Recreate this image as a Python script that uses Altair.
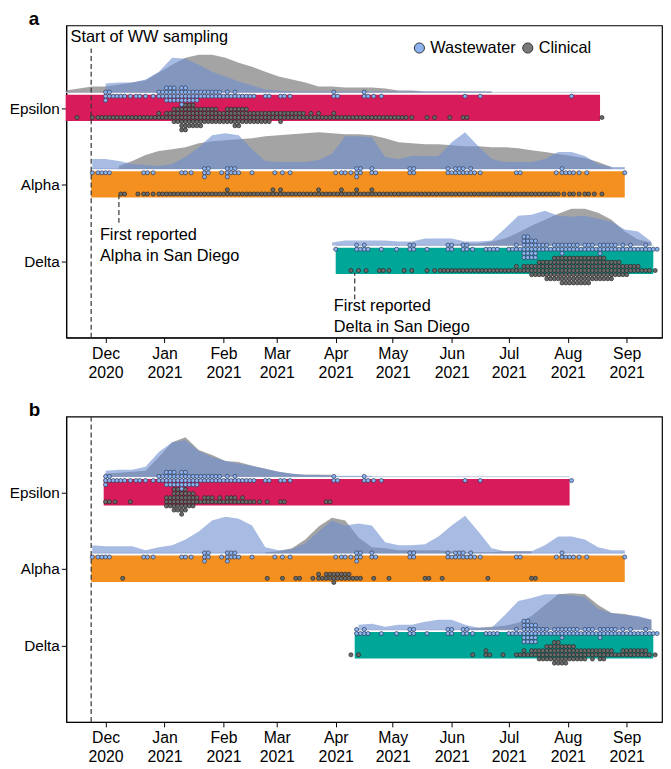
import altair as alt
import pandas as pd

FONT = "Liberation Sans"

# ---------------- values ----------------
VARIANTS = ["Epsilon", "Alpha", "Delta"]
ROW = {"Epsilon": 3, "Alpha": 2, "Delta": 1}
BAR_COLORS = ["#d81b5b", "#f39020", "#00a698"]

MONTH_TICKS = ["2020-12-01", "2021-01-01", "2021-02-01", "2021-03-01", "2021-04-01",
               "2021-05-01", "2021-06-01", "2021-07-01", "2021-08-01", "2021-09-01"]

# detection periods (bars)
BARS_A_START = ["2020-11-10", "2020-11-23T10:00", "2021-04-01"]
BARS_A_END = ["2021-08-18", "2021-08-31", "2021-09-15"]
BARS_B_START = ["2020-11-30", "2020-11-23T10:00", "2021-04-11"]
BARS_B_END = ["2021-08-02", "2021-08-31", "2021-09-15"]

# sample counts in 4-day bins counted from 2020-11-10 (first bin index, counts)
EPS_WW_START = 5
EPS_WW = [5, 2, 2, 1, 2, 1, 1, 4, 8, 7, 9, 6, 5, 4, 4, 3, 3, 3, 2, 2,
          0, 2, 0, 2, 1, 0, 0, 0, 0, 0, 3, 0, 0, 0, 3, 1, 1, 0, 0, 0,
          0, 0, 0, 0, 0, 0, 0, 1, 0, 1, 0, 0, 0, 0, 0, 0, 0, 0, 0, 0, 0, 1]
ALP_WW_START = 3
ALP_WW = [1, 2, 2, 0, 0, 0, 0, 2, 1, 0, 0, 0, 2, 1, 0, 5, 0, 1, 5, 3,
          0, 1, 0, 0, 1, 1, 1, 0, 0, 0, 0, 0, 1, 2, 1, 5, 0, 3, 0, 0,
          0, 0, 4, 0, 0, 0, 0, 3, 4, 3, 3, 1, 0, 0, 0, 0, 2, 0, 0, 0,
          0, 1, 3, 2, 1, 1, 0, 0, 0, 0, 1]
DEL_WW_START = 35
DEL_WW = [1, 0, 0, 3, 3, 0, 1, 0, 1, 0, 4, 0, 1, 0, 0, 4, 0, 4, 1, 0,
          2, 2, 0, 2, 3, 12, 10, 4, 3, 4, 5, 4, 3, 4, 3, 5, 4, 3, 3, 3, 2, 3, 2]

EPS_CLIN_A_START = 1
EPS_CLIN_A = [1, 0, 1, 2, 2, 2, 2, 2, 2, 2, 2, 3, 4, 8, 14, 12, 10, 8, 8, 6,
              8, 10, 8, 6, 6, 6, 4, 5, 4, 4, 3, 3, 3, 2, 3, 2, 2, 2, 2, 2,
              2, 2, 2, 2, 1, 0, 1, 1, 0, 1, 0, 2, 0, 0, 0, 0, 0, 0, 0, 0,
              0, 0, 0, 0, 0, 0, 0, 0, 0, 1]
ALP_CLIN_A_START = 7
ALP_CLIN_A = [2, 0, 1, 2, 1, 2, 2, 2, 2, 2, 2, 2, 2, 2, 3, 2, 2, 2, 2, 2,
              3, 3, 2, 2, 2, 2, 3, 2, 2, 3, 2, 3, 2, 3, 2, 2, 2, 2, 2, 2,
              2, 2, 2, 2, 2, 2, 2, 2, 2, 2, 2, 2, 2, 2, 2, 2, 2, 2, 1, 2, 1, 2, 1, 1]
DEL_CLIN_A_START = 37
DEL_CLIN_A = [1, 1, 1, 0, 2, 1, 0, 1, 1, 0, 1, 1, 2, 2, 2, 2, 2, 2, 2, 2,
              2, 2, 3, 4, 6, 8, 10, 12, 14, 14, 14, 14, 12, 12, 10, 8, 6, 4, 3, 2, 1]

EPS_CLIN_B_START = 5
EPS_CLIN_B = [2, 1, 0, 1, 0, 0, 0, 0, 6, 12, 13, 8, 3, 4, 3, 3, 4, 3, 3, 2,
              1, 1, 0, 2, 0, 0, 0, 0, 0, 2]
ALP_CLIN_B_START = 7
ALP_CLIN_B = [1, 0, 0, 0, 0, 0, 0, 0, 0, 0, 0, 0, 0, 0, 0, 0, 0, 0, 0, 1,
              0, 1, 0, 2, 0, 1, 3, 4, 5, 4, 3, 2, 0, 1, 0, 1, 0, 0, 0, 0,
              2, 0, 1, 0, 0, 0, 0, 0, 1, 0, 0, 0, 0, 0, 2]
DEL_CLIN_B_START = 37
DEL_CLIN_B = [1, 1, 0, 0, 0, 0, 0, 0, 0, 0, 0, 0, 0, 0, 0, 0, 1, 0, 3, 0,
              1, 0, 2, 3, 4, 6, 8, 12, 10, 8, 6, 5, 5, 6, 4, 2, 4, 4, 4, 3, 1]

# relative abundance curves, weekly from 2020-11-10 (first week index, values)
EPS_CLIN_AREA_A_START = 0
EPS_CLIN_AREA_A = [2, 4, 6, 6, 8, 10, 12, 20, 28, 35, 38, 38, 35, 30, 26, 21, 16, 13, 10, 6,
                   6, 5, 5, 5, 4, 2, 2, 1, 1, 1, 1, 1, 1]
EPS_WW_AREA_A_START = 3
EPS_WW_AREA_A = [9, 10, 10, 13, 21, 35, 34, 28, 21, 16, 11, 7, 3, 2, 1, 1, 1, 1, 1, 1,
                 1, 1, 1, 1, 1, 1, 1, 1, 1, 1]
ALP_CLIN_AREA_A_START = 4
ALP_CLIN_AREA_A = [3, 8, 14, 18, 20, 22, 26, 28, 29, 30, 31, 33, 34, 35, 36, 37, 36, 35, 35, 34,
                   31, 27, 26, 25, 25, 24, 23, 23, 22, 22, 21, 19, 17, 15, 13, 11, 7, 2]
ALP_WW_AREA_A_START = 2
ALP_WW_AREA_A = [10, 10, 8, 5, 4, 3, 5, 12, 22, 34, 36, 34, 20, 8, 7, 7, 7, 9, 15, 33,
                 33, 32, 12, 10, 13, 13, 13, 27, 37, 23, 10, 7, 7, 7, 10, 17, 17, 13, 5, 2, 2]
DEL_CLIN_AREA_A_START = 29
DEL_CLIN_AREA_A = [1, 2, 2, 4, 7, 13, 20, 26, 32, 37, 37, 33, 26, 14, 6, 3]
DEL_WW_AREA_A_START = 20
DEL_WW_AREA_A = [3, 5, 5, 5, 5, 4, 4, 7, 7, 7, 4, 4, 5, 17, 30, 31, 35, 30, 29, 30,
                 27, 24, 16, 14, 4]

EPS_CLIN_AREA_B_START = 3
EPS_CLIN_AREA_B = [3, 4, 5, 6, 20, 35, 40, 27, 22, 16, 15, 11, 8, 5, 3, 2, 2, 2]
EPS_WW_AREA_B_START = 3
EPS_WW_AREA_B = [6, 7, 7, 10, 25, 35, 37, 26, 20, 16, 13, 11, 8, 5, 3, 2, 2, 1, 1, 1, 1]
ALP_CLIN_AREA_B_START = 15
ALP_CLIN_AREA_B = [1, 2, 5, 14, 27, 36, 33, 16, 6, 5, 3, 3, 3, 3, 2, 1, 1, 1, 2, 2, 2]
ALP_WW_AREA_B_START = 2
ALP_WW_AREA_B = [8, 7, 7, 7, 3, 6, 8, 14, 22, 33, 37, 35, 28, 6, 3, 4, 10, 22, 33, 28,
                 30, 28, 11, 8, 8, 9, 17, 28, 38, 22, 5, 2, 2, 2, 8, 17, 17, 14, 6, 3, 3]
DEL_CLIN_AREA_B_START = 30
DEL_CLIN_AREA_B = [1, 2, 3, 4, 7, 14, 25, 36, 37, 36, 25, 17, 16, 13, 10]
DEL_WW_AREA_B_START = 22
DEL_WW_AREA_B = [5, 6, 3, 5, 5, 8, 10, 10, 5, 2, 2, 15, 29, 32, 36, 36, 35, 33, 21, 17,
                 15, 14, 10]

# ---------------- layout helpers ----------------
DAY = 86_400_000


def ts(s):
    return int(pd.Timestamp(s, tz="UTC").value // 1_000_000)


T0 = ts("2020-11-10")
LEVELS = [0, 1, -1, 2, -2, 3, -3, 4, -4, 5, -5]
DOT_STEP = 0.054
AREA_UNIT = 1 / 77.4
BAR_LO, BAR_HI = -0.17, 0.175
AREA_BASE = 0.205
WW_ROW, CLIN_ROW = 0.155, -0.123


def dot_rows(variant, source, start_bin, counts, lo, hi):
    base = ROW[variant] + (WW_ROW if source == "Wastewater" else CLIN_ROW)
    rows = []
    for j, n in enumerate(counts):
        c = T0 + (4 * (start_bin + j) + 2) * DAY
        for i in range(n):
            dx = 0 if n == 1 else (-1 if i % 2 == 0 else 1)
            x = c + dx * DAY
            if x < lo - 2 * DAY or x > hi + 2 * DAY:
                continue
            rows.append(dict(variant=variant, source=source, x=x,
                             y=base + LEVELS[i // 2] * DOT_STEP))
    return rows


def area_rows(variant, source, start_week, vals):
    base = ROW[variant] + AREA_BASE
    return [dict(variant=variant, source=source, x=T0 + 7 * (start_week + j) * DAY,
                 y=base + v * AREA_UNIT, y2=base) for j, v in enumerate(vals)]


XSCALE = alt.Scale(type="utc", domain=[ts("2020-11-10T08:00"), ts("2021-09-19T14:00")])
XAXIS = alt.Axis(values=[ts(m) for m in MONTH_TICKS],
                 labelExpr="[utcFormat(datum.value, '%b'), utcFormat(datum.value, '%Y')]",
                 title=None, grid=False, tickSize=5, labelFontSize=16, labelPadding=3,
                 labelLineHeight=19, labelFont=FONT, labelColor="black", tickColor="black",
                 domainColor="black", labelOverlap=False, labelFlush=False)
YAXIS = alt.Axis(values=[1, 2, 3],
                 labelExpr="datum.value == 3 ? 'Epsilon' : datum.value == 2 ? 'Alpha' : 'Delta'",
                 title=None, grid=False, tickSize=5, labelFontSize=15.5, labelPadding=2,
                 labelFont=FONT, labelColor="black", tickColor="black", domainColor="black")


def build_panel(letter, height, ytop, bstart, bend, ww_areas, clin_areas, clin_dots,
                rules, texts, legend):
    X = alt.X("x:T", scale=XSCALE, axis=XAXIS)
    Y = alt.Y("y:Q", scale=alt.Scale(domain=[0, ytop], nice=False, zero=False), axis=YAXIS)

    bars = pd.DataFrame(dict(variant=VARIANTS,
                             x=[ts(s) for s in bstart], x2=[ts(s) for s in bend],
                             y=[ROW[v] + BAR_LO for v in VARIANTS],
                             y2=[ROW[v] + BAR_HI for v in VARIANTS]))
    bases = pd.DataFrame(dict(variant=VARIANTS, x=bars.x, x2=bars.x2,
                              y=[ROW[v] + AREA_BASE for v in VARIANTS]))
    lo = dict(zip(VARIANTS, bars.x))
    hi = dict(zip(VARIANTS, bars.x2))

    ww_dots = []
    for v, (sb, cnt) in zip(VARIANTS, [(EPS_WW_START, EPS_WW), (ALP_WW_START, ALP_WW),
                                       (DEL_WW_START, DEL_WW)]):
        ww_dots += dot_rows(v, "Wastewater", sb, cnt, lo[v], hi[v])
    cl_dots = []
    for v, (sb, cnt) in zip(VARIANTS, clin_dots):
        cl_dots += dot_rows(v, "Clinical", sb, cnt, lo[v], hi[v])
    ww_a, cl_a = [], []
    for v, (sw, vals) in zip(VARIANTS, ww_areas):
        ww_a += area_rows(v, "Wastewater", sw, vals)
    for v, (sw, vals) in zip(VARIANTS, clin_areas):
        cl_a += area_rows(v, "Clinical", sw, vals)

    layers = [
        alt.Chart(bars).mark_rect().encode(
            x=X, x2="x2:T", y=Y, y2="y2:Q",
            color=alt.Color("variant:N", scale=alt.Scale(domain=VARIANTS, range=BAR_COLORS),
                            legend=None)),
        alt.Chart(bases).mark_rule(color="#cdd4e6", strokeWidth=1.3).encode(
            x=X, x2="x2:T", y=Y),
        alt.Chart(pd.DataFrame(cl_a)).mark_area(color="#7e7e7e", opacity=0.7).encode(
            x=X, y=Y, y2="y2:Q", detail="variant:N"),
        alt.Chart(pd.DataFrame(ww_a)).mark_area(color="#6e8ecf", opacity=0.6).encode(
            x=X, y=Y, y2="y2:Q", detail="variant:N"),
        alt.Chart(pd.DataFrame(cl_dots)).mark_point(
            shape="circle", filled=True, fill="#6b6b6b", stroke="#262626", strokeWidth=0.7,
            size=17, opacity=1).encode(x=X, y=Y),
        alt.Chart(pd.DataFrame(ww_dots)).mark_point(
            shape="circle", filled=True, fill="#8cb3f0", stroke="#2e3a55", strokeWidth=0.7,
            size=17, opacity=1).encode(x=X, y=Y),
        alt.Chart(pd.DataFrame(rules)).mark_rule(
            color="#333333", strokeDash=[5, 3], strokeWidth=1.2).encode(x=X, y=Y, y2="y2:Q"),
    ]
    if texts:
        layers.append(alt.Chart(pd.DataFrame(texts)).mark_text(
            align="left", baseline="middle", lineBreak="\n", fontSize=16.5, lineHeight=21,
            font=FONT, color="black").encode(x=X, y=Y, text="text:N"))
    if legend:
        lg = pd.DataFrame(legend)
        layers.append(alt.Chart(lg).mark_point(
            shape="circle", filled=True, size=105, opacity=1, stroke="#333333",
            strokeWidth=1).encode(
            x=X, y=Y,
            fill=alt.Fill("source:N", scale=alt.Scale(domain=["Wastewater", "Clinical"],
                                                      range=["#8cb3f0", "#7a7a7a"]),
                          legend=None)))
        layers.append(alt.Chart(lg).mark_text(
            align="left", baseline="middle", fontSize=16.5, font=FONT, color="black",
            dx=11).encode(x=X, y=Y, text="source:N"))

    return alt.layer(*layers).properties(
        width=603, height=height,
        title=alt.TitleParams(letter, anchor="start", frame="group", fontSize=19,
                              fontWeight="bold", font=FONT, dx=-38, offset=-4, color="black"))


WW_START = "2020-11-23T10:00"

panel_a = build_panel(
    "a", 316, 4.08, BARS_A_START, BARS_A_END,
    [(EPS_WW_AREA_A_START, EPS_WW_AREA_A), (ALP_WW_AREA_A_START, ALP_WW_AREA_A),
     (DEL_WW_AREA_A_START, DEL_WW_AREA_A)],
    [(EPS_CLIN_AREA_A_START, EPS_CLIN_AREA_A), (ALP_CLIN_AREA_A_START, ALP_CLIN_AREA_A),
     (DEL_CLIN_AREA_A_START, DEL_CLIN_AREA_A)],
    [(EPS_CLIN_A_START, EPS_CLIN_A), (ALP_CLIN_A_START, ALP_CLIN_A),
     (DEL_CLIN_A_START, DEL_CLIN_A)],
    [dict(x=ts(WW_START), y=0, y2=3.78),
     dict(x=ts("2020-12-08"), y=1.50, y2=1.86),
     dict(x=ts("2021-04-11"), y=0.50, y2=0.85)],
    [dict(x=ts("2020-11-12T14:00"), y=3.93, text="Start of WW sampling"),
     dict(x=ts("2020-11-28"), y=1.343, text="First reported\nAlpha in San Diego"),
     dict(x=ts("2021-03-31"), y=0.413, text="First reported\nDelta in San Diego")],
    [dict(x=ts("2021-05-15"), y=3.785, source="Wastewater"),
     dict(x=ts("2021-07-11"), y=3.785, source="Clinical")],
)

panel_b = build_panel(
    "b", 309, 3.99, BARS_B_START, BARS_B_END,
    [(EPS_WW_AREA_B_START, EPS_WW_AREA_B), (ALP_WW_AREA_B_START, ALP_WW_AREA_B),
     (DEL_WW_AREA_B_START, DEL_WW_AREA_B)],
    [(EPS_CLIN_AREA_B_START, EPS_CLIN_AREA_B), (ALP_CLIN_AREA_B_START, ALP_CLIN_AREA_B),
     (DEL_CLIN_AREA_B_START, DEL_CLIN_AREA_B)],
    [(EPS_CLIN_B_START, EPS_CLIN_B), (ALP_CLIN_B_START, ALP_CLIN_B),
     (DEL_CLIN_B_START, DEL_CLIN_B)],
    [dict(x=ts(WW_START), y=0, y2=3.99)],
    [], [],
)

chart = alt.vconcat(panel_a, panel_b, spacing=19).properties(
    padding={"left": 0, "top": -3, "right": 0, "bottom": 0}
).configure_view(stroke="black", strokeWidth=1.2)

chart.save("out.html", embed_options={"renderer": "svg", "actions": False})
